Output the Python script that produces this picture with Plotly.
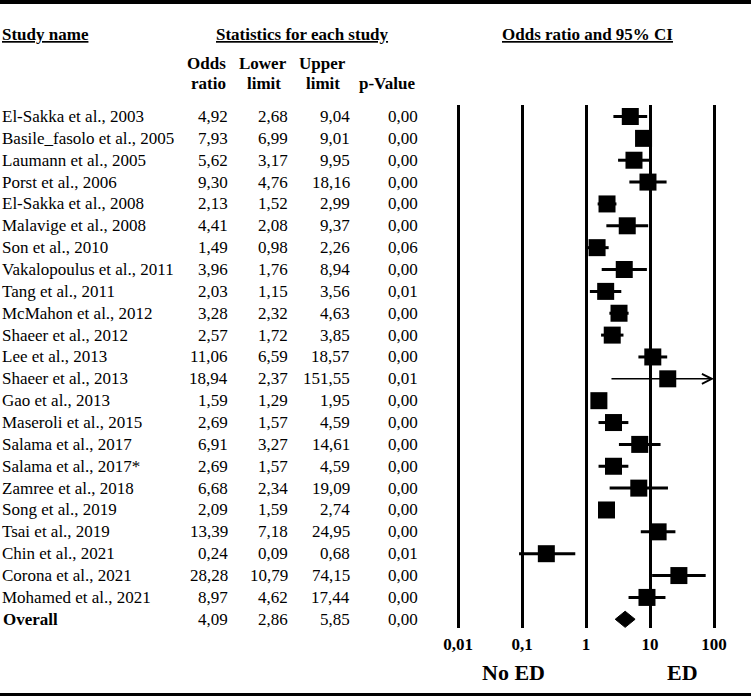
import numpy as np
import plotly.graph_objects as go

# ---------------- data ----------------
studies = ["El-Sakka et al., 2003", "Basile_fasolo et al., 2005", "Laumann et al., 2005",
           "Porst et al., 2006", "El-Sakka et al., 2008", "Malavige et al., 2008",
           "Son et al., 2010", "Vakalopoulus et al., 2011", "Tang et al., 2011",
           "McMahon et al., 2012", "Shaeer et al., 2012", "Lee et al., 2013",
           "Shaeer et al., 2013", "Gao et al., 2013", "Maseroli et al., 2015",
           "Salama et al., 2017", "Salama et al., 2017*", "Zamree et al., 2018",
           "Song et al., 2019", "Tsai et al., 2019", "Chin et al., 2021",
           "Corona et al., 2021", "Mohamed et al., 2021"]
odds = [4.92, 7.93, 5.62, 9.30, 2.13, 4.41, 1.49, 3.96, 2.03, 3.28, 2.57, 11.06,
        18.94, 1.59, 2.69, 6.91, 2.69, 6.68, 2.09, 13.39, 0.24, 28.28, 8.97]
lower = [2.68, 6.99, 3.17, 4.76, 1.52, 2.08, 0.98, 1.76, 1.15, 2.32, 1.72, 6.59,
         2.37, 1.29, 1.57, 3.27, 1.57, 2.34, 1.59, 7.18, 0.09, 10.79, 4.62]
upper = [9.04, 9.01, 9.95, 18.16, 2.99, 9.37, 2.26, 8.94, 3.56, 4.63, 3.85, 18.57,
         151.55, 1.95, 4.59, 14.61, 4.59, 19.09, 2.74, 24.95, 0.68, 74.15, 17.44]
pvals = [0.00, 0.00, 0.00, 0.00, 0.00, 0.00, 0.06, 0.00, 0.01, 0.00, 0.00, 0.00,
         0.01, 0.00, 0.00, 0.00, 0.00, 0.00, 0.00, 0.00, 0.01, 0.00, 0.00]
overall_label = "Overall"
overall_or, overall_lo, overall_hi, overall_p = 4.09, 2.86, 5.85, 0.00

tick_vals = [0.01, 0.1, 1, 10, 100]
tick_text = ["0,01", "0,1", "1", "10", "100"]
left_label, right_label = "No ED", "ED"

# ---------------- layout geometry ----------------
W, H = 751, 696
ML, MR, MT, MB = 454, 33, 105, 68
PL, PR, PT, PB = ML, W - MR, MT, H - MB
ROW0, ROWH = 116.5, 21.86
AX_MIN, AX_MAX = 0.01, 100
pad = 0.0625
FONT = "Liberation Serif"


def px(x):
    return (x - PL) / (PR - PL)


def py(y):
    return (PB - y) / (PB - PT)


def fmt(v):
    return f"{v:.2f}".replace(".", ",")


n = len(studies)
rows = list(range(n))
overall_row = n

fig = go.Figure()

# CI lines (within axis range)
xs, ys = [], []
for i, (lo, hi) in enumerate(zip(lower, upper)):
    if hi <= AX_MAX:
        xs += [lo, hi, None]
        ys += [i, i, None]
fig.add_trace(go.Scatter(x=xs, y=ys, mode="lines", line=dict(color="black", width=3),
                         hoverinfo="skip", showlegend=False))

# CIs exceeding the axis: thin line with open arrow
for i, (lo, hi) in enumerate(zip(lower, upper)):
    if hi > AX_MAX:
        fig.add_annotation(x=np.log10(AX_MAX), y=i, ax=np.log10(lo), ay=i,
                           xref="x", yref="y", axref="x", ayref="y", text="",
                           showarrow=True, arrowhead=5, arrowsize=1.3, arrowwidth=1.5,
                           arrowcolor="black", standoff=0, startstandoff=0)

# study squares
fig.add_trace(go.Scatter(x=odds, y=rows, mode="markers",
                         marker=dict(symbol="square", size=17, color="black",
                                     line=dict(width=0)),
                         showlegend=False))

# overall diamond
dh = 0.37
fig.add_trace(go.Scatter(x=[overall_lo, overall_or, overall_hi, overall_or, overall_lo],
                         y=[overall_row, overall_row - dh, overall_row, overall_row + dh, overall_row],
                         mode="lines", fill="toself", fillcolor="black",
                         line=dict(color="black", width=1), showlegend=False))

# ---------------- table text ----------------
tf = dict(family=FONT, size=17, color="black")
col_right = [230, 290, 352, 420]

for i, name in enumerate(studies):
    fig.add_annotation(x=px(0), y=i, xref="paper", yref="y", text=name, showarrow=False,
                       xanchor="left", yanchor="middle", font=tf)
    for cx, v in zip(col_right, [odds[i], lower[i], upper[i], pvals[i]]):
        fig.add_annotation(x=px(cx), y=i, xref="paper", yref="y", text=fmt(v),
                           showarrow=False, xanchor="right", yanchor="middle", font=tf)

fig.add_annotation(x=px(1), y=overall_row, xref="paper", yref="y",
                   text=f"<b>{overall_label}</b>", showarrow=False,
                   xanchor="left", yanchor="middle", font=tf)
for cx, v in zip(col_right, [overall_or, overall_lo, overall_hi, overall_p]):
    fig.add_annotation(x=px(cx), y=overall_row, xref="paper", yref="y", text=fmt(v),
                       showarrow=False, xanchor="right", yanchor="middle", font=tf)

# headers
hdrs = [("<b><u>Study name</u></b>", 0, "left"),
        ("<b><u>Statistics for each study</u></b>", 302, "center"),
        ("<b><u>Odds ratio and 95% CI</u></b>", 587, "center")]
for t, x, anc in hdrs:
    fig.add_annotation(x=px(x), y=py(34), xref="paper", yref="paper", text=t,
                       showarrow=False, xanchor=anc, yanchor="middle", font=tf)

sub = [("Odds", 206, 63), ("ratio", 208, 84), ("Lower", 263, 63), ("limit", 264, 84),
       ("Upper", 322, 63), ("limit", 323, 84), ("p-Value", 387, 84)]
for t, x, y in sub:
    fig.add_annotation(x=px(x), y=py(y), xref="paper", yref="paper", text=f"<b>{t}</b>",
                       showarrow=False, xanchor="center", yanchor="middle", font=tf)

# bottom labels
bf = dict(family=FONT, size=22, color="black")
fig.add_annotation(x=px(513), y=py(672), xref="paper", yref="paper", text=f"<b>{left_label}</b>",
                   showarrow=False, xanchor="center", yanchor="middle", font=bf)
fig.add_annotation(x=px(682), y=py(672), xref="paper", yref="paper", text=f"<b>{right_label}</b>",
                   showarrow=False, xanchor="center", yanchor="middle", font=bf)

# borders
fig.add_shape(type="line", xref="paper", yref="paper", x0=px(0), x1=px(W), y0=py(2), y1=py(2),
              line=dict(color="black", width=4))
fig.add_shape(type="line", xref="paper", yref="paper", x0=px(0), x1=px(W), y0=py(694.5), y1=py(694.5),
              line=dict(color="black", width=3))

fig.update_xaxes(type="log", range=[np.log10(AX_MIN) - pad, np.log10(AX_MAX) + pad],
                 tickvals=tick_vals, ticktext=[f"<b>{t}</b>" for t in tick_text],
                 tickfont=dict(family=FONT, size=17, color="black"),
                 showgrid=True, gridcolor="black", gridwidth=3,
                 showline=False, zeroline=False, ticks="", ticklabelstandoff=4)
fig.update_yaxes(range=[(PB - ROW0) / ROWH, (PT - ROW0) / ROWH],
                 showgrid=False, zeroline=False, showticklabels=False, showline=False)

fig.update_layout(width=W, height=H, margin=dict(l=ML, r=MR, t=MT, b=MB, pad=0),
                  plot_bgcolor="white", paper_bgcolor="white", showlegend=False,
                  font=dict(family=FONT, color="black"))

fig.write_html("out.html", config={"displayModeBar": False},
               post_script="document.body.style.margin='0px';")
